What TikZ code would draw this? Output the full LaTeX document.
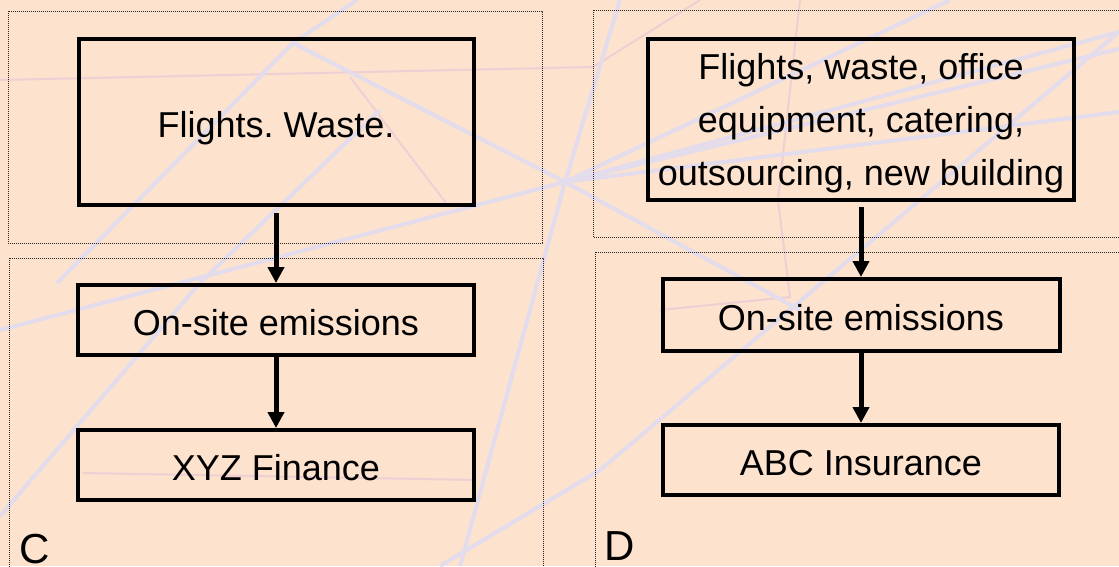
\documentclass[tikz,border=0pt]{standalone}
\usepackage{fontspec}
\setmainfont{Liberation Sans}
\usetikzlibrary{arrows.meta}
\frenchspacing

\definecolor{peach}{RGB}{253,226,206}
\definecolor{haze}{RGB}{226,220,236}
\definecolor{blush}{RGB}{238,208,212}

\tikzset{
  region/.style={draw=black!85, line width=0.8pt, dash pattern=on 0.8pt off 1.2pt},
  box/.style={draw, line width=4pt, align=center, inner sep=0pt,
              font=\fontsize{36}{53}\selectfont},
  oneline/.style={text height=30pt, text depth=0pt},
  flow/.style={line width=5pt, -{Triangle[length=16pt,width=16pt]}},
  tag/.style={anchor=base west, inner sep=0pt, font=\fontsize{42}{50}\selectfont},
  strand/.style={haze, line width=4pt},
  thread/.style={blush, line width=2pt},
}

\begin{document}
\begin{tikzpicture}[x=1pt,y=-1pt]
\fill[peach] (0,0) rectangle (1119,566);
\useasboundingbox (0,0) rectangle (1119,566);

% backdrop
\begin{scope}
\clip (0,0) rectangle (1119,566);
\draw[thread] (0,80) -- (593,67) -- (700,0);
\draw[thread] (350,77) -- (446,203);
\draw[thread] (83,473) -- (476,480);
\draw[thread] (800,0) -- (778,200) -- (790,297) -- (660,310);
\draw[strand] (57,283) -- (293,43) -- (357,0);
\draw[strand] (293,43) -- (565,182) -- (800,310);
\draw[strand] (565,182) -- (620,0);
\draw[strand] (565,182) -- (950,0);
\draw[strand] (565,182) -- (1119,32);
\draw[strand] (565,182) -- (1119,49);
\draw[strand] (565,182) -- (1119,112);
\draw[strand] (565,182) -- (0,330);
\draw[strand] (565,182) -- (460,566);
\draw[strand] (1119,32) -- (600,470) -- (440,566);
\draw[strand] (0,516) -- (200,283) -- (380,110);
\end{scope}

% panels
\draw[region] (8,11) rectangle (542,243);
\draw[region] (9,258) rectangle (543,580);
\draw[region] (593,10) rectangle (1130,237);
\draw[region] (595,252) rectangle (1130,580);

% left chain
\node[box, oneline, minimum width=395pt, minimum height=166pt] (fw) at (276,122) {Flights. Waste.};
\node[box, oneline, minimum width=396pt, minimum height=70pt] (os1) at (276,320) {On-site emissions};
\node[box, oneline, minimum width=396pt, minimum height=70pt] (xyz) at (276,465) {XYZ Finance};
\draw[flow, shorten <=6pt] (fw) -- (os1);
\draw[flow] (os1) -- (xyz);
\node[tag] (tagc) at (19,563) {C};

% right chain
\node[box, minimum width=426pt, minimum height=161pt] (fr) at (861,119.5)
  {\rule{0pt}{34pt}Flights, waste, office\\equipment, catering,\\outsourcing, new building};
\node[box, oneline, minimum width=397pt, minimum height=72pt] (os2) at (861,315) {On-site emissions};
\node[box, oneline, minimum width=396pt, minimum height=70pt] (abc) at (861,460) {ABC Insurance};
\draw[flow, shorten <=5pt] (fr) -- (os2);
\draw[flow] (os2) -- (abc);
\node[tag] (tagd) at (604,560) {D};
\end{tikzpicture}
\end{document}
